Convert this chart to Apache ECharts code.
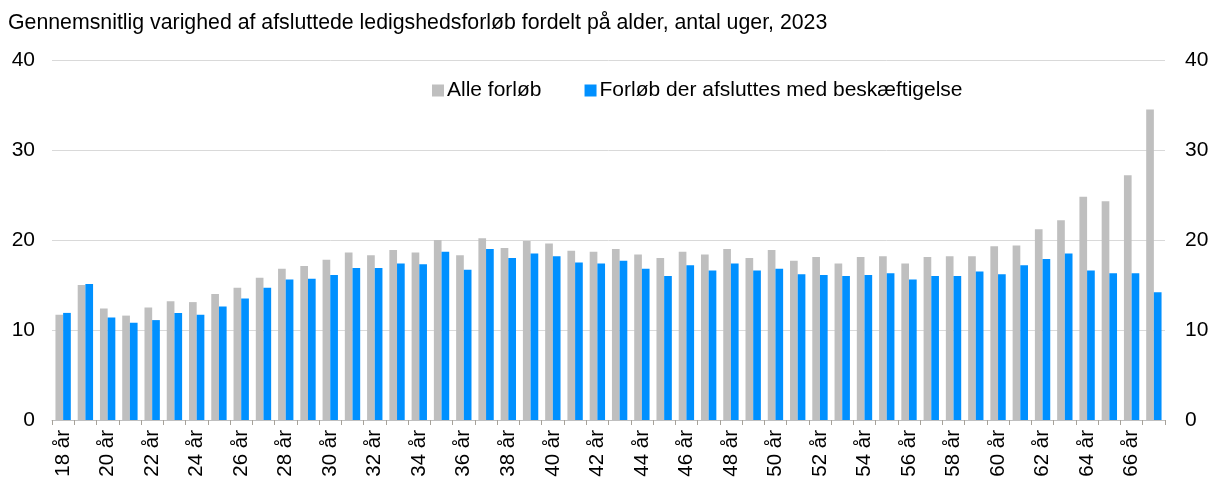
<!DOCTYPE html>
<html>
<head>
<meta charset="utf-8">
<script src="https://cdn.jsdelivr.net/npm/echarts@6/dist/echarts.min.js"></script>
<style>
html,body{margin:0;padding:0;background:#fff;}
#c{width:1212px;height:481px;}
</style>
</head>
<body>
<div id="c"></div>
<script>
const titleText = 'Gennemsnitlig varighed af afsluttede ledigshedsforløb fordelt på alder, antal uger, 2023';
const ages = [];
for (let a = 18; a <= 67; a++) ages.push(a + ' år');
const seriesNames = ['Alle forløb', 'Forløb der afsluttes med beskæftigelse'];
const alleForlob = [
  11.7, 15.0, 12.4, 11.6, 12.5, 13.2, 13.1, 14.0, 14.7, 15.8,
  16.8, 17.1, 17.8, 18.6, 18.3, 18.9, 18.6, 20.0, 18.3, 20.2,
  19.1, 19.9, 19.6, 18.8, 18.7, 19.0, 18.4, 18.0, 18.7, 18.4,
  19.0, 18.0, 18.9, 17.7, 18.1, 17.4, 18.1, 18.2, 17.4, 18.1,
  18.2, 18.2, 19.3, 19.4, 21.2, 22.2, 24.8, 24.3, 27.2, 34.5
];
const beskaeftigelse = [
  11.9, 15.1, 11.4, 10.8, 11.1, 11.9, 11.7, 12.6, 13.5, 14.7,
  15.6, 15.7, 16.1, 16.9, 16.9, 17.4, 17.3, 18.7, 16.7, 19.0,
  18.0, 18.5, 18.2, 17.5, 17.4, 17.7, 16.8, 16.0, 17.2, 16.6,
  17.4, 16.6, 16.8, 16.2, 16.1, 16.0, 16.1, 16.3, 15.6, 16.0,
  16.0, 16.5, 16.2, 17.2, 17.9, 18.5, 16.6, 16.3, 16.3, 14.2
];
const yTicks = [0, 10, 20, 30, 40];

const chart = echarts.init(document.getElementById('c'), null, {renderer: 'canvas'});
const font = 'Liberation Sans, Arial, sans-serif';
const yAxisBase = {
  type: 'value', min: yTicks[0], max: yTicks[yTicks.length - 1], interval: 10,
  axisLine: {show: false}, axisTick: {show: false},
  axisLabel: {color: '#000', fontSize: 21, fontFamily: font},
  splitLine: {show: true, lineStyle: {color: '#d9d9d9', width: 1}}
};
chart.setOption({
  animation: false,
  textStyle: {fontFamily: font},
  title: {
    text: titleText, left: 3, top: 8,
    textStyle: {fontSize: 21.3, fontWeight: 'normal', color: '#000', fontFamily: font}
  },
  legend: {
    data: seriesNames, left: 427, top: 75,
    itemWidth: 12, itemHeight: 12, itemGap: 43,
    icon: 'rect',
    textStyle: {fontSize: 21, color: '#000', fontFamily: font, padding: [0, 0, 0, -2]}
  },
  grid: {left: 52, right: 47, top: 60, bottom: 61, containLabel: false},
  xAxis: {
    type: 'category', data: ages,
    axisLine: {show: true, lineStyle: {color: '#bfbfbf', width: 1}},
    axisTick: {show: true, alignWithLabel: false, interval: 0, length: 5, lineStyle: {color: '#a6a29a'}},
    axisLabel: {interval: 1, rotate: 90, color: '#000', fontSize: 20.5, fontFamily: font, margin: 10}
  },
  yAxis: [
    Object.assign({}, yAxisBase, {position: 'left', axisLabel: Object.assign({}, yAxisBase.axisLabel, {margin: 17})}),
    Object.assign({}, yAxisBase, {position: 'right', splitLine: {show: false}, axisLabel: Object.assign({}, yAxisBase.axisLabel, {margin: 20})})
  ],
  series: [
    {name: seriesNames[0], type: 'bar', data: alleForlob, barWidth: '34.5%', barGap: '0%',
     itemStyle: {color: '#bfbfbf'}},
    {name: seriesNames[1], type: 'bar', data: beskaeftigelse, barWidth: '34.5%', barGap: '0%',
     itemStyle: {color: '#0090ff'}}
  ]
});
</script>
</body>
</html>
